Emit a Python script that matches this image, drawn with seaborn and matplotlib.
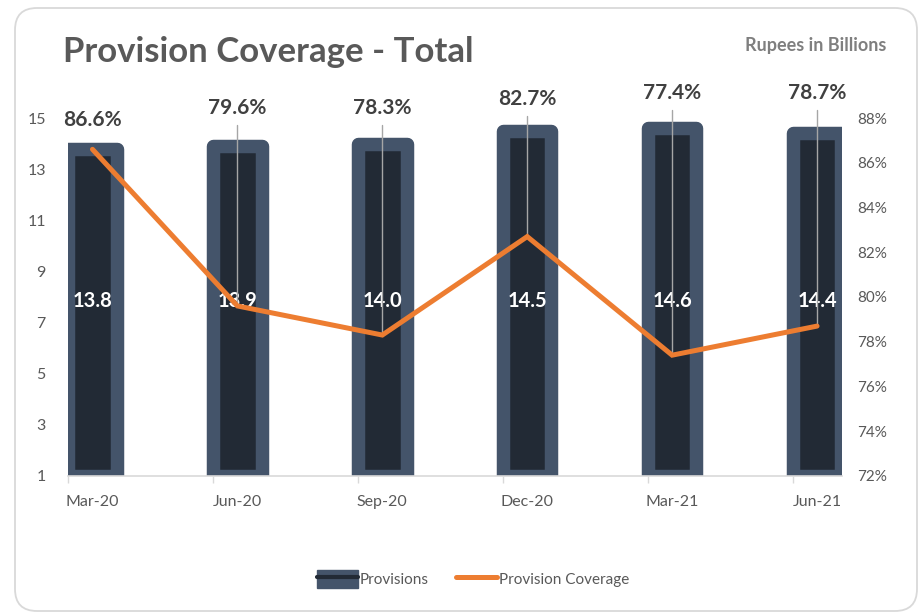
import numpy as np
import matplotlib
matplotlib.use("Agg")
import matplotlib.pyplot as plt
import seaborn as sns
from matplotlib.patches import FancyBboxPatch, Patch
from matplotlib.lines import Line2D

# Quarterly provisions (Rupees in billions) and provision coverage (%)
quarters = ["Mar-20", "Jun-20", "Sep-20", "Dec-20", "Mar-21", "Jun-21"]
provisions = [13.8, 13.9, 14.0, 14.5, 14.6, 14.4]
coverage = [86.6, 79.6, 78.3, 82.7, 77.4, 78.7]
left_ticks = [1, 3, 5, 7, 9, 11, 13, 15]
right_ticks = [72, 74, 76, 78, 80, 82, 84, 86, 88]

# Heights (on the coverage axis) where the percentage callouts sit
callout_y = [87.9, 88.45, 88.45, 88.85, 89.1, 89.1]

sns.set_theme(style="white")
plt.rcParams["font.family"] = ["Lato", "DejaVu Sans"]

BAR_EDGE = "#44546a"
BAR_FILL = "#222a35"
LINE_C = "#ed7d31"
TXT = "#595959"

fig = plt.figure(figsize=(9.2, 6.13), dpi=100)
ax = fig.add_axes([0.0739, 0.2235, 0.8413, 0.584])

sns.barplot(x=quarters, y=provisions, ax=ax, color=BAR_FILL, saturation=1,
            width=0.334, edgecolor=BAR_EDGE, linewidth=9.7)
floor = left_ticks[0]
for p in ax.patches:
    top = p.get_y() + p.get_height()
    p.set_y(floor)
    p.set_height(top - floor)
    p.set_joinstyle("round")
    p.set_facecolor(BAR_FILL)
    p.set_edgecolor(BAR_EDGE)

xpos = np.arange(len(quarters))
ax.set_xlim(-0.169, len(quarters) - 1 + 0.172)
ax.set_ylim(left_ticks[0], left_ticks[-1])
ax.set_yticks(left_ticks)
ax.set_xticks(xpos)
ax.set_xticklabels(quarters)
ax.set_xticks(xpos - 0.169, minor=True)
ax.tick_params(axis="x", which="major", length=0, pad=14, labelsize=11.5, labelcolor=TXT)
ax.tick_params(axis="x", which="minor", length=5, width=1, color="#d9d9d9", bottom=True)
ax.tick_params(axis="y", length=0, pad=16, labelsize=11.5, labelcolor=TXT)
ax.set_xlabel("")
ax.set_ylabel("")
for s in ["top", "left", "right"]:
    ax.spines[s].set_visible(False)
ax.spines["bottom"].set_color("#d9d9d9")
ax.spines["bottom"].set_linewidth(1.2)

for x, v in zip(xpos, provisions):
    ax.text(x, 7.85, f"{v:.1f}", ha="center", va="center", color="white",
            fontsize=14.5, fontweight="bold")

ax2 = ax.twinx()
sns.lineplot(x=xpos, y=coverage, ax=ax2, color=LINE_C, linewidth=3.6)
for ln in ax2.lines:
    ln.set_solid_capstyle("round")
    ln.set_solid_joinstyle("miter")
ax2.set_ylim(right_ticks[0], right_ticks[-1])
ax2.set_yticks(right_ticks)
ax2.set_yticklabels([f"{t}%" for t in right_ticks])
ax2.tick_params(axis="y", length=0, pad=11, labelsize=11, labelcolor=TXT)
ax2.set_ylabel("")
for s in ["top", "left", "right", "bottom"]:
    ax2.spines[s].set_visible(False)

for i, (x, v, ly) in enumerate(zip(xpos, coverage, callout_y)):
    if i > 0:
        ax2.plot([x, x], [ly - 0.75, v], color="#a6a6a6", lw=1, zorder=1,
                 clip_on=False)
    ax2.text(x, ly, f"{v:.1f}%", ha="center", va="center", color="#404040",
             fontsize=15, fontweight="bold", clip_on=False)

fig.text(63 / 920, 1 - 52 / 613, "Provision Coverage - Total", ha="left",
         va="center", fontsize=25, fontweight="bold", color=TXT)
fig.text(886 / 920, 1 - 46 / 613, "Rupees in Billions", ha="right",
         va="center", fontsize=13, fontweight="bold", color="#7f7f7f")

handles = [
    (Patch(facecolor=BAR_EDGE, edgecolor=BAR_EDGE),
     Line2D([], [], color=BAR_FILL, lw=3)),
    Line2D([], [], color=LINE_C, lw=3.6, solid_capstyle="round"),
]
fig.legend(handles, ["Provisions", "Provision Coverage"], loc="center",
           bbox_to_anchor=(473 / 920, 1 - 579 / 613), ncol=2, frameon=False,
           fontsize=11, labelcolor=TXT, handlelength=2.7, handleheight=1.35,
           handletextpad=0.1, columnspacing=1.8)

frame = FancyBboxPatch((0.15, 0.02), 9.02, 6.03,
                       boxstyle="round,pad=0,rounding_size=0.22",
                       transform=fig.dpi_scale_trans, facecolor="none",
                       edgecolor="#d9d9d9", linewidth=1.3)
fig.add_artist(frame)

fig.savefig("out.png", dpi=100)
